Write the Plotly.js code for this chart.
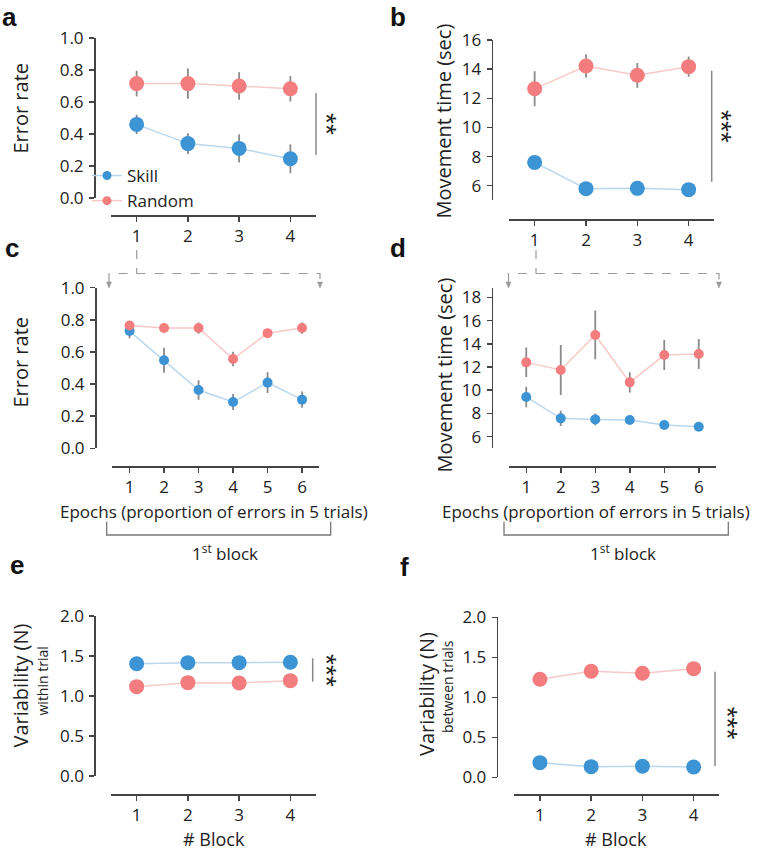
<!DOCTYPE html>
<html>
<head>
<meta charset="utf-8">
<script src="https://cdn.plot.ly/plotly-3.0.1.min.js"></script>
<style>html,body{margin:0;padding:0;background:#fff;}#chart{width:757px;height:853px;}</style>
</head>
<body>
<div id="chart"></div>
<script>
// ---------- data ----------
const blocks = [1, 2, 3, 4];
const epochs = [1, 2, 3, 4, 5, 6];
const seriesNames = ['Skill', 'Random'];

// a: error rate per block
const errSkillA = [0.46, 0.34, 0.31, 0.245];
const errSkillAse = [0.06, 0.065, 0.088, 0.09];
const errRandA = [0.715, 0.715, 0.70, 0.683];
const errRandAse = [0.08, 0.095, 0.086, 0.08];

// b: movement time per block
const mtSkillB = [7.6, 5.8, 5.82, 5.73];
const mtSkillBse = [0.2, 0.15, 0.15, 0.15];
const mtRandB = [12.65, 14.22, 13.58, 14.17];
const mtRandBse = [1.2, 0.8, 0.85, 0.7];

// c: error rate per epoch (1st block)
const errSkillC = [0.73, 0.548, 0.363, 0.288, 0.409, 0.303];
const errSkillCse = [0.045, 0.078, 0.06, 0.05, 0.065, 0.05];
const errRandC = [0.765, 0.749, 0.749, 0.556, 0.717, 0.749];
const errRandCse = [0.02, 0.02, 0.035, 0.045, 0.02, 0.035];

// d: movement time per epoch (1st block)
const mtSkillD = [9.42, 7.58, 7.49, 7.43, 7.0, 6.86];
const mtSkillDse = [0.88, 0.66, 0.5, 0.25, 0.15, 0.15];
const mtRandD = [12.4, 11.74, 14.76, 10.68, 13.03, 13.12];
const mtRandDse = [1.27, 2.15, 2.1, 0.87, 1.29, 1.3];

// e: variability within trial
const varSkillE = [1.404, 1.417, 1.417, 1.421];
const varRandE = [1.117, 1.167, 1.163, 1.192];

// f: variability between trials
const varSkillF = [0.183, 0.133, 0.138, 0.129];
const varRandF = [1.225, 1.325, 1.30, 1.358];
const varRandFse = [0.02, 0.03, 0.05, 0.03];

// tick labels
const tickA = [0, 0.2, 0.4, 0.6, 0.8, 1.0];
const tickB = [6, 8, 10, 12, 14, 16];
const tickD = [6, 8, 10, 12, 14, 16, 18];
const tickE = [0, 0.5, 1.0, 1.5, 2.0];

// ---------- styling ----------
const W = 757, H = 853;
const X = px => px / W;
const Y = py => 1 - py / H;
const BLUE = '#3d94d5', BLUE_L = '#b9d7ee';
const PINK = '#f37d7e', PINK_L = '#f8c9c9';
const ERR = '#8a8a8a';
const FONT = 'Open Sans, DejaVu Sans, sans-serif';
const TXT = '#222';

function series(x, y, se, ax, color, lcolor, size, name) {
  const t = {
    x: x, y: y, xaxis: 'x' + ax, yaxis: 'y' + ax,
    type: 'scatter', mode: 'lines+markers', name: name,
    showlegend: false, legendgroup: name,
    marker: {color: color, size: size},
    line: {color: lcolor, width: 1.5},
    cliponaxis: false, hoverinfo: 'skip'
  };
  if (se) t.error_y = {type: 'data', array: se, visible: true, color: ERR, thickness: 1.8, width: 0};
  return t;
}
// legend keys (no points of their own)
function key(name, color, lcolor) {
  return {
    x: [null], y: [null], xaxis: 'x', yaxis: 'y', type: 'scatter', mode: 'lines+markers',
    name: name, showlegend: true, legendgroup: name,
    marker: {color: color, size: 9}, line: {color: lcolor, width: 1.5}, hoverinfo: 'skip'
  };
}

const traces = [
  series(blocks, errSkillA, errSkillAse, '', BLUE, BLUE_L, 15, seriesNames[0]),
  series(blocks, errRandA, errRandAse, '', PINK, PINK_L, 15, seriesNames[1]),
  series(blocks, mtSkillB, mtSkillBse, '2', BLUE, BLUE_L, 15, seriesNames[0]),
  series(blocks, mtRandB, mtRandBse, '2', PINK, PINK_L, 15, seriesNames[1]),
  series(epochs, errSkillC, errSkillCse, '3', BLUE, BLUE_L, 10, seriesNames[0]),
  series(epochs, errRandC, errRandCse, '3', PINK, PINK_L, 10, seriesNames[1]),
  series(epochs, mtSkillD, mtSkillDse, '4', BLUE, BLUE_L, 10, seriesNames[0]),
  series(epochs, mtRandD, mtRandDse, '4', PINK, PINK_L, 10, seriesNames[1]),
  series(blocks, varSkillE, null, '5', BLUE, BLUE_L, 15, seriesNames[0]),
  series(blocks, varRandE, null, '5', PINK, PINK_L, 15, seriesNames[1]),
  series(blocks, varSkillF, null, '6', BLUE, BLUE_L, 15, seriesNames[0]),
  series(blocks, varRandF, varRandFse, '6', PINK, PINK_L, 15, seriesNames[1]),
  key(seriesNames[0], BLUE, BLUE_L),
  key(seriesNames[1], PINK, PINK_L)
];

const axBase = {
  showline: true, linecolor: '#444', linewidth: 1.5,
  ticks: 'outside', ticklen: 5, tickwidth: 1.5, tickcolor: '#444',
  showgrid: false, zeroline: false, fixedrange: true,
  tickfont: {family: FONT, size: 17, color: TXT}
};

const layout = {
  width: W, height: H,
  margin: {l: 0, r: 0, t: 0, b: 0},
  paper_bgcolor: '#fff', plot_bgcolor: 'rgba(0,0,0,0)',
  font: {family: FONT, color: TXT},
  showlegend: true,
  legend: {
    x: X(87), y: Y(158), xanchor: 'left', yanchor: 'top',
    bgcolor: 'rgba(0,0,0,0)', borderwidth: 0,
    font: {family: FONT, size: 17, color: TXT},
    tracegroupgap: 0
  },
  shapes: [], annotations: []
};

function panel(id, xDomPx, xPosPy, xRange, xTicks, yDomPy, yPosPx, yRange, yTicks, yFmt) {
  const xa = Object.assign({}, axBase, {
    domain: [X(xDomPx[0]), X(xDomPx[1])], anchor: 'free', position: Y(xPosPy),
    range: xRange, tickmode: 'array', tickvals: xTicks, ticklabelstandoff: 0
  });
  const ya = Object.assign({}, axBase, {
    domain: [Y(yDomPy[1]), Y(yDomPy[0])], anchor: 'free', position: X(yPosPx),
    range: yRange, tickmode: 'array', tickvals: yTicks, tickformat: yFmt, ticklabelstandoff: 2
  });
  layout['xaxis' + id] = xa;
  layout['yaxis' + id] = ya;
}

panel('', [111, 316], 215, [0.5, 4.5], blocks, [38, 198], 94, [0, 1.0], tickA, '.1f');
panel('2', [509, 714.3], 219, [0.5, 4.5], blocks, [40, 200.3], 491.7, [5, 16], tickB, 'd');
panel('3', [112.3, 319.3], 466, [0.5, 6.5], epochs, [287.7, 448.3], 95, [0, 1.0], tickA, '.1f');
panel('4', [509, 716], 466, [0.5, 6.5], epochs, [287.7, 448.3], 491.7, [5, 18.83], tickD, 'd');
panel('5', [111, 316], 794.3, [0.5, 4.5], blocks, [616, 776], 94.3, [0, 2.0], tickE, '.1f');
panel('6', [514.3, 719.3], 794.3, [0.5, 4.5], blocks, [617.3, 777.3], 496.7, [0, 2.0], tickE, '.1f');

function ann(text, px, py, size, opts) {
  layout.annotations.push(Object.assign({
    text: text, x: X(px), y: Y(py), xref: 'paper', yref: 'paper',
    xanchor: 'center', yanchor: 'middle', showarrow: false,
    font: {family: FONT, size: size, color: TXT}
  }, opts || {}));
}
function line(path, color, width, dash, fill) {
  layout.shapes.push({
    type: 'path', xref: 'paper', yref: 'paper', path: path,
    line: {color: color, width: width, dash: dash || 'solid'},
    fillcolor: fill || 'rgba(0,0,0,0)'
  });
}
const P = (px, py) => X(px).toFixed(5) + ',' + Y(py).toFixed(5);

// panel letters
const LBL = {family: 'Liberation Sans, Arial, sans-serif', size: 26, color: '#111', weight: 'bold'};
[['a', 9, 17], ['b', 398, 17], ['c', 12, 248], ['d', 398, 248], ['e', 17, 565], ['f', 405, 567]]
  .forEach(l => ann('<b>' + l[0] + '</b>', l[1], l[2], 26, {font: LBL}));

// axis titles
ann('Error rate', 19.5, 108, 20, {textangle: -90});
ann('Movement time (sec)', 443.5, 121, 20, {textangle: -90});
ann('Error rate', 19.5, 362, 20, {textangle: -90});
ann('Movement time (sec)', 443.5, 375, 20, {textangle: -90});
ann('Variability (N)', 19.5, 686, 20, {textangle: -90});
ann('within trial', 41.5, 681, 14, {textangle: -90});
ann('Variability (N)', 426, 694, 20, {textangle: -90});
ann('between trials', 447, 687, 14, {textangle: -90});
ann('Epochs (proportion of errors in 5 trials)', 213.5, 512, 17);
ann('Epochs (proportion of errors in 5 trials)', 596, 512, 17);
ann('# Block', 213.5, 839, 18);
ann('# Block', 616, 839, 18);
ann('1<sup>st</sup> block', 225, 552, 17);
ann('1<sup>st</sup> block', 622.5, 552, 17);

// significance bars and stars
const SIG = '#888';
const STAR = {family: 'Liberation Sans, Arial, sans-serif', size: 28, color: '#222'};
line('M' + P(316, 93) + 'L' + P(316, 155), SIG, 1.5);
ann('**', 327, 124, 28, {textangle: 90, font: STAR});
line('M' + P(711.7, 70.7) + 'L' + P(711.7, 181.7), SIG, 1.5);
ann('***', 722, 126, 28, {textangle: 90, font: STAR});
line('M' + P(312.7, 658.3) + 'L' + P(312.7, 681.7), SIG, 1.5);
ann('***', 327, 670, 28, {textangle: 90, font: STAR});
line('M' + P(715, 671.7) + 'L' + P(715, 766), SIG, 1.5);
ann('***', 727, 722.7, 28, {textangle: 90, font: STAR});

// dashed zoom brackets
const DG = '#9a9a9a';
function zoomBracket(xTop, xl, xr) {
  line('M' + P(xTop, 250) + 'L' + P(xTop, 273.5), DG, 1.2, 'dash');
  line('M' + P(xl, 282) + 'L' + P(xl, 273.5) + 'L' + P(xr, 273.5) + 'L' + P(xr, 282), DG, 1.2, 'dash');
  line('M' + P(xl - 2.5, 282) + 'L' + P(xl + 2.5, 282) + 'L' + P(xl, 288) + 'Z', DG, 0.5, 'solid', DG);
  line('M' + P(xr - 2.5, 282) + 'L' + P(xr + 2.5, 282) + 'L' + P(xr, 288) + 'Z', DG, 0.5, 'solid', DG);
}
zoomBracket(136.7, 109, 320);
zoomBracket(536, 508.5, 719);

// "1st block" brackets
const BG = '#777';
line('M' + P(106.7, 521.7) + 'L' + P(106.7, 535) + 'L' + P(330.7, 535) + 'L' + P(330.7, 521.7), BG, 1.3);
line('M' + P(504, 521.7) + 'L' + P(504, 535) + 'L' + P(728.3, 535) + 'L' + P(728.3, 521.7), BG, 1.3);

Plotly.newPlot('chart', traces, layout, {staticPlot: true, displayModeBar: false});
</script>
</body>
</html>
